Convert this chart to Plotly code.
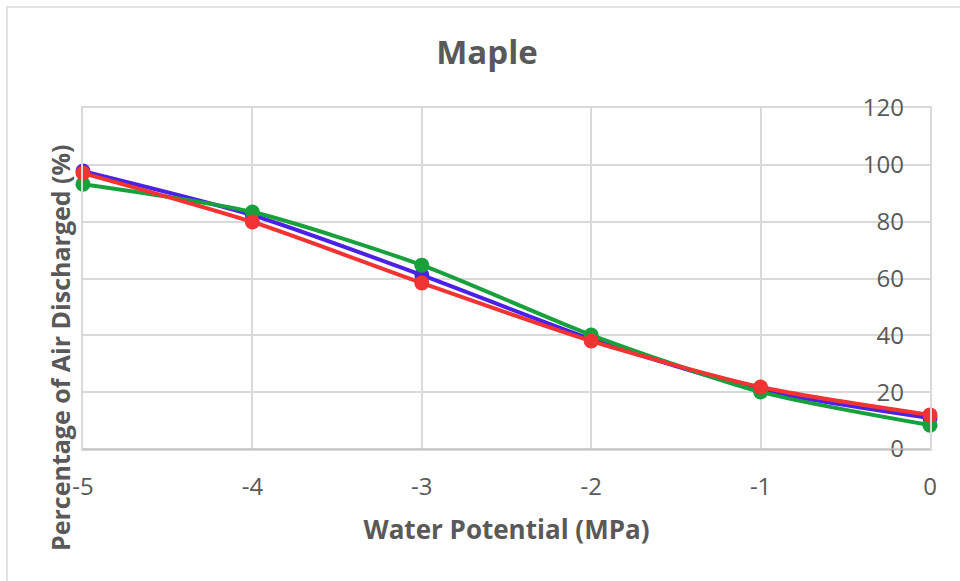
import plotly.graph_objects as go

x_vals = [-5, -4, -3, -2, -1, 0]
blue_vals = [97.8, 82.3, 61.2, 38.7, 20.8, 10.9]
green_vals = [93.2, 83.4, 64.7, 40.1, 20.1, 8.4]
red_vals = [97.1, 79.9, 58.4, 38.0, 21.8, 12.0]
y_ticks = [0, 20, 40, 60, 80, 100, 120]
x_ticks = [-5, -4, -3, -2, -1, 0]
x_labels = ["-5", "-4", "-3", "-2", "-1", "0"]

W, H = 960, 581
L, R, T, B = 83, 30, 108, 132

fig = go.Figure()
for name, vals, col in [("Blue", blue_vals, "#4A22E6"),
                        ("Green", green_vals, "#17A03C"),
                        ("Red", red_vals, "#F23333")]:
    fig.add_trace(go.Scatter(x=x_vals, y=vals, mode="lines+markers", name=name,
                             line=dict(color=col, width=4, shape="spline", smoothing=0.7),
                             marker=dict(color=col, size=15), cliponaxis=False))

# invisible trace so the label axis (y2) is rendered
fig.add_trace(go.Scatter(x=[x_vals[0]], y=[y_ticks[0]], yaxis="y2", mode="markers",
                         marker=dict(opacity=0), hoverinfo="skip", showlegend=False))

font_fam = "Open Sans, Liberation Sans, sans-serif"
TXT = "#595959"
GRID = "#D9D9D9"
fig.update_layout(
    width=W, height=H,
    margin=dict(l=L, r=R, t=T, b=B),
    paper_bgcolor="white", plot_bgcolor="white",
    showlegend=False,
    font=dict(family=font_fam, color=TXT),
    title=dict(text="<b>Maple</b>", x=487 / W, xanchor="center",
               y=1 - 52 / H, yanchor="middle", font=dict(size=33, color=TXT)),
    xaxis=dict(range=[-5, 0], tickvals=x_ticks, ticktext=x_labels, showgrid=True,
               gridcolor=GRID, gridwidth=1.5, showline=True, mirror=True, linecolor=GRID,
               linewidth=1.5,
               zeroline=False, ticks="", tickfont=dict(size=24, color=TXT),
               ticklabelstandoff=15,
               title=dict(text="<b>Water Potential (MPa)</b>", font=dict(size=26, color=TXT),
                          standoff=20)),
    yaxis=dict(range=[0, 120], tickvals=y_ticks, showticklabels=False,
               showgrid=True, gridcolor=GRID, gridwidth=1.5, zeroline=False,
               showline=True, mirror=True, linecolor=GRID, linewidth=1.5,
               ticks=""),
    yaxis2=dict(range=[0, 120], tickvals=y_ticks, overlaying="y", anchor="free", position=1,
                side="left", showgrid=False, zeroline=False, showline=False, ticks="",
                ticklabelstandoff=26, tickfont=dict(size=24, color=TXT)),
)

# bottom axis line
fig.add_shape(type="line", xref="paper", yref="paper", x0=0, x1=1, y0=0, y1=0,
              line=dict(color="#BFBFBF", width=1.5))

# y-axis title on left
fig.add_annotation(text="<b>Percentage of Air Discharged (%)</b>", xref="paper", yref="paper",
                   x=(60 - L) / (W - L - R), y=(H - B - 348) / (H - T - B),
                   xanchor="center", yanchor="middle", textangle=-90, showarrow=False,
                   font=dict(size=25, color=TXT))

# chart border
pw, ph = W - L - R, H - T - B
fig.add_shape(type="rect", xref="paper", yref="paper",
              x0=(7 - L) / pw, x1=(W + 10 - L) / pw,
              y0=-(H + 10 - T - ph) / ph, y1=(H - 7 - B) / ph,
              line=dict(color=GRID, width=1.5), layer="below")

fig.write_html("out.html")
